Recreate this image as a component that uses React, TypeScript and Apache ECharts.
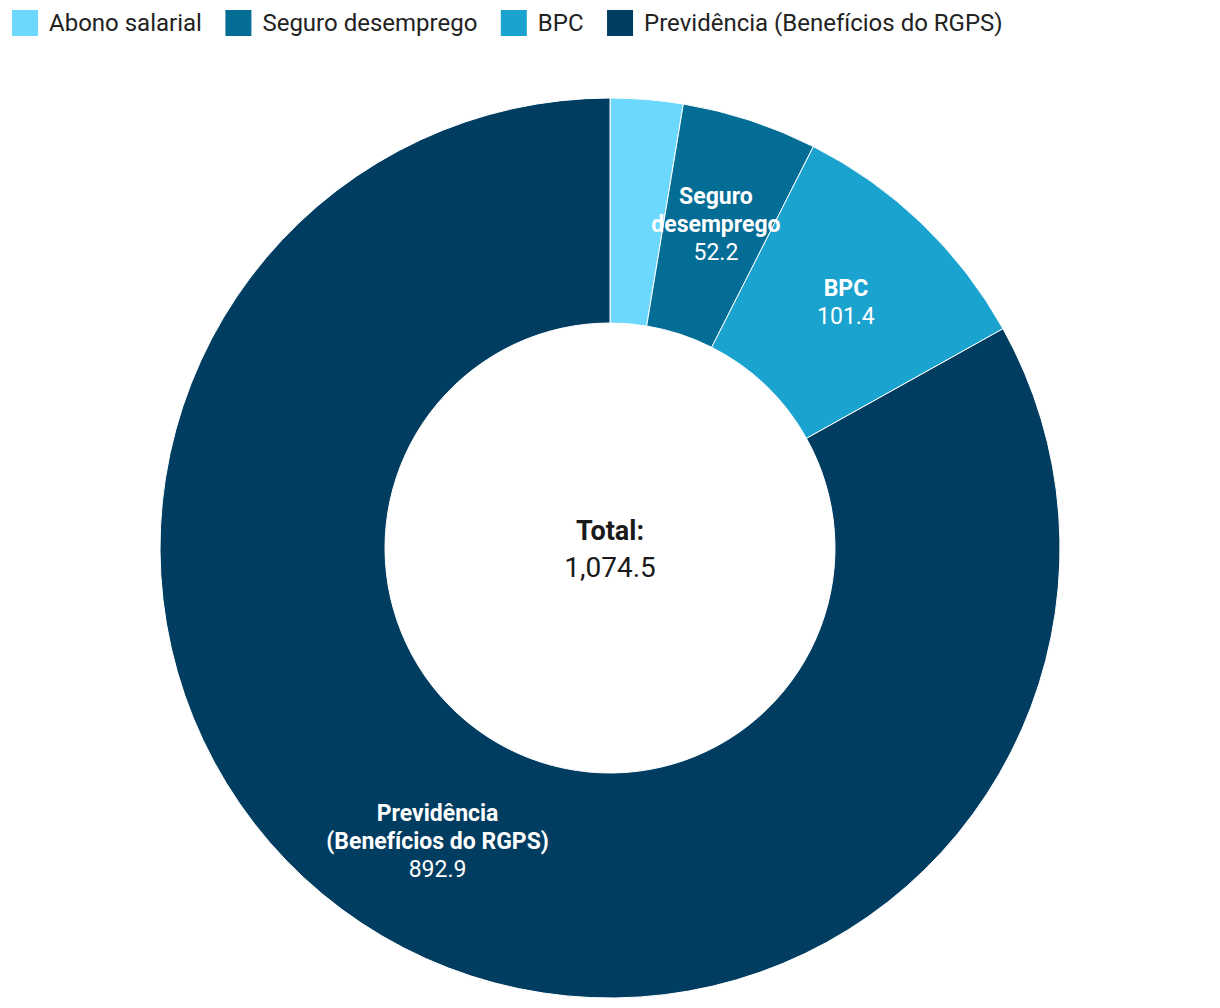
import React, { useEffect, useRef } from "react";
import * as echarts from "echarts";

const categories = ["Abono salarial", "Seguro desemprego", "BPC", "Previdência (Benefícios do RGPS)"];
const labelNames = ["", "Seguro\ndesemprego", "BPC", "Previdência\n(Benefícios do RGPS)"];
const values = [28.0, 52.2, 101.4, 892.9];
const colors = ["#6cd8fd", "#036d96", "#1ba3cf", "#003d61"];
const totalLabel = "Total:";
const totalValue = "1,074.5";

export default function App() {
  const ref = useRef<HTMLDivElement>(null);
  useEffect(() => {
    const chart = echarts.init(ref.current!, null, { renderer: "svg" });
    chart.setOption({
      animation: false,
      textStyle: { fontFamily: "Roboto" },
      legend: {
        top: 0,
        left: 2,
        padding: 0,
        itemWidth: 28,
        itemHeight: 28,
        itemGap: 21.5,
        icon: "rect",
        textStyle: { fontSize: 24, color: "#222", fontFamily: "Roboto", padding: [0, 0, 0, 5] },
        data: categories,
      },
      graphic: [
        {
          type: "text",
          left: "center",
          top: 509,
          style: {
            text: totalLabel,
            font: "bold 27px Roboto",
            fill: "#1a1a1a",
            textAlign: "center",
          },
        },
        {
          type: "text",
          left: "center",
          top: 545,
          style: {
            text: totalValue,
            font: "28px Roboto",
            fill: "#1a1a1a",
            textAlign: "center",
          },
        },
      ],
      series: [
        {
          type: "pie",
          center: [602, 540],
          radius: [225, 450],
          startAngle: 90,
          clockwise: true,
          avoidLabelOverlap: false,
          itemStyle: { borderColor: "#fff", borderWidth: 1 },
          label: {
            show: true,
            position: "inside",
            color: "#fff",
            formatter: (p: any) => {
              const ln = labelNames[p.dataIndex];
              if (!ln) return "";
              const nameLines = ln
                .split("\n")
                .map((s: string) => "{n|" + s + "}")
                .join("\n");
              return nameLines + "\n{v|" + p.value.toFixed(1) + "}";
            },
            rich: {
              n: { fontSize: 23, fontWeight: "bold", color: "#fff", lineHeight: 28, fontFamily: "Roboto" },
              v: { fontSize: 23, color: "#fff", lineHeight: 28, fontFamily: "Roboto" },
            },
          },
          labelLine: { show: false },
          data: categories.map((c, i) => ({
            name: c,
            value: values[i],
            itemStyle: { color: colors[i] },
          })),
        },
      ],
    });
    return () => chart.dispose();
  }, []);
  return <div ref={ref} style={{ width: 1204, height: 992 }} />;
}
